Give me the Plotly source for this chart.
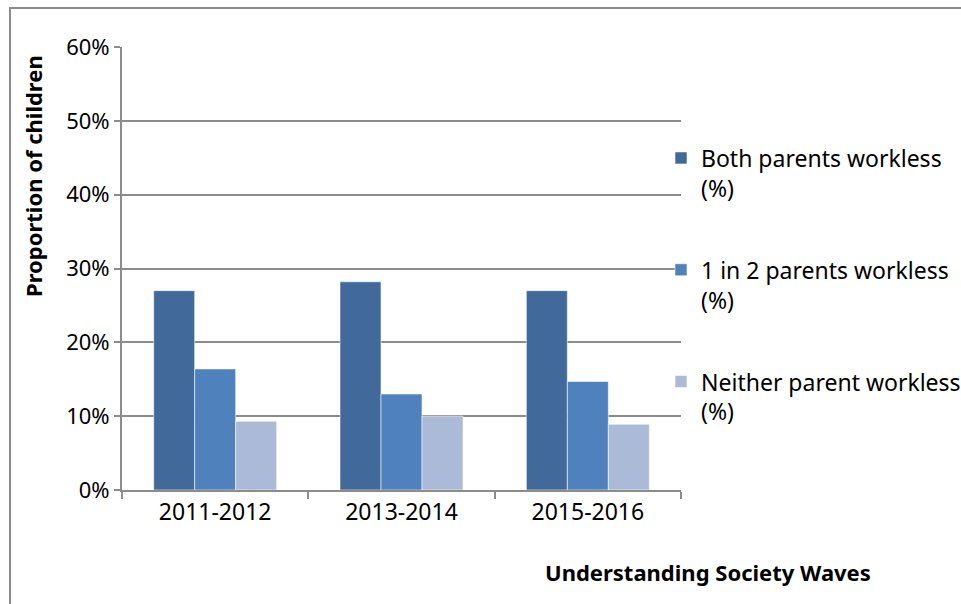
import plotly.graph_objects as go

categories = ["2011-2012", "2013-2014", "2015-2016"]
series_names = ["Both parents workless<br>(%)", "1 in 2 parents workless<br>(%)", "Neither parent workless<br>(%)"]
both_workless = [0.270, 0.282, 0.270]
one_workless = [0.164, 0.130, 0.147]
neither_workless = [0.093, 0.100, 0.089]
colors = ["#416A9B", "#4F81BD", "#AABAD7"]

FONT = "Noto Sans"
GRID = "#8C8C8C"

fig = go.Figure()
for i, (name, vals) in enumerate(zip(series_names, [both_workless, one_workless, neither_workless])):
    fig.add_trace(go.Bar(
        x=categories, y=vals, name=name,
        marker=dict(color=colors[i], line=dict(color="rgba(255,255,255,0.55)", width=1)),
        legendgroup=f"g{i}",
    ))

fig.update_layout(
    width=961, height=604,
    margin=dict(l=122, r=280, t=47, b=114, autoexpand=False),
    paper_bgcolor="white", plot_bgcolor="white",
    barmode="group", bargap=0.34, bargroupgap=0,
    font=dict(family=FONT, size=23, color="#000000"),
    showlegend=True,
    legend=dict(
        xref="container", x=661 / 961, xanchor="left", y=0.798, yanchor="top",
        font=dict(family=FONT, size=23, color="#000000"),
        tracegroupgap=49, valign="top",
        bgcolor="rgba(0,0,0,0)", itemclick=False,
    ),
    xaxis=dict(
        showline=True, linecolor=GRID, linewidth=2,
        ticks="outside", tickson="boundaries", ticklen=7, tickcolor=GRID, tickwidth=2,
        tickfont=dict(family=FONT, size=23), showgrid=False,
    ),
    yaxis=dict(
        range=[0, 0.6], dtick=0.1, tickformat=".0%",
        showline=True, linecolor=GRID, linewidth=2,
        ticks="outside", ticklen=6, tickcolor=GRID, tickwidth=2,
        showgrid=True, gridcolor=GRID, gridwidth=2,
        zeroline=False, tickfont=dict(family=FONT, size=22),
    ),
    annotations=[
        dict(text="<b>Proportion of children</b>", textangle=-90,
             x=(33 - 122) / 559, y=(490 - 176) / 443, xref="paper", yref="paper",
             xanchor="center", yanchor="middle",
             showarrow=False, font=dict(family=FONT, size=22)),
        dict(text="<b>Understanding Society Waves</b>",
             x=(708 - 122) / 559, y=(490 - 572) / 443, xref="paper", yref="paper",
             xanchor="center", yanchor="middle",
             showarrow=False, font=dict(family=FONT, size=22)),
    ],
    shapes=[
        dict(type="rect", xref="paper", yref="paper",
             x0=(10 - 122) / 559, x1=(975 - 122) / 559,
             y0=(490 - 620) / 443, y1=(490 - 8) / 443,
             line=dict(color=GRID, width=2), layer="below"),
    ],
)

fig.write_html("out.html")
